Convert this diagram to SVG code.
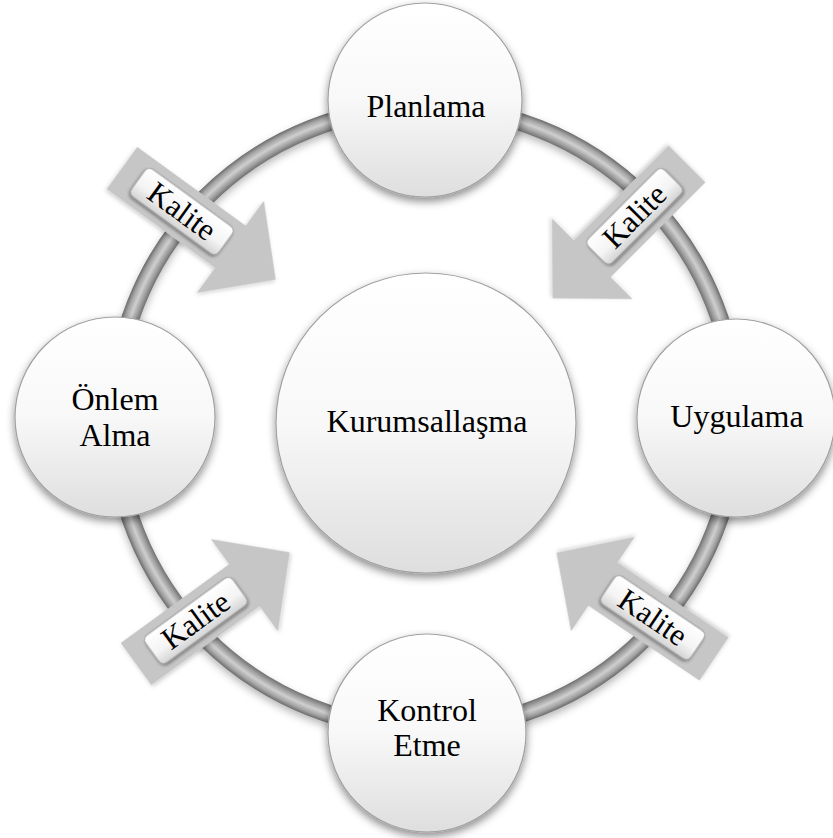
<svg xmlns="http://www.w3.org/2000/svg" width="833" height="838" viewBox="0 0 833 838">
<style>
.lbl{font-family:"Liberation Serif","Times New Roman",serif;font-size:32px;fill:#000;text-anchor:middle}
.kal{font-family:"Liberation Serif","Times New Roman",serif;font-size:31px;fill:#000;text-anchor:middle}
.node{fill:url(#nodeGrad);stroke:#a0a0a0;stroke-width:1.2;filter:url(#shadow)}
.arrow{fill:#c6c6c6;filter:url(#ashadow)}
.tag{fill:url(#tagGrad);stroke:#8a8a8a;stroke-width:0.8;filter:url(#tshadow)}
</style>
<defs>
<linearGradient id="nodeGrad" x1="0" y1="0" x2="0" y2="1">
<stop offset="0" stop-color="#ffffff"/>
<stop offset="0.5" stop-color="#f8f8f8"/>
<stop offset="1" stop-color="#dedede"/>
</linearGradient>
<linearGradient id="tagGrad" x1="0" y1="0" x2="0" y2="1">
<stop offset="0" stop-color="#ffffff"/>
<stop offset="0.6" stop-color="#f4f4f4"/>
<stop offset="1" stop-color="#d4d4d4"/>
</linearGradient>
<radialGradient id="tube" gradientUnits="userSpaceOnUse" cx="425" cy="418" r="320">
<stop offset="0.943" stop-color="#6e6e6e"/>
<stop offset="0.955" stop-color="#9a9a9a"/>
<stop offset="0.972" stop-color="#cfcfcf"/>
<stop offset="0.988" stop-color="#a2a2a2"/>
<stop offset="1" stop-color="#6a6a6a"/>
</radialGradient>
<filter id="shadow" x="-20%" y="-20%" width="140%" height="150%">
<feDropShadow dx="0" dy="4" stdDeviation="4" flood-color="#000" flood-opacity="0.45"/>
</filter>
<filter id="ashadow" x="-20%" y="-20%" width="140%" height="140%">
<feDropShadow dx="0" dy="2" stdDeviation="2" flood-color="#000" flood-opacity="0.2"/>
</filter>
<filter id="tshadow" x="-20%" y="-40%" width="140%" height="180%">
<feDropShadow dx="0" dy="2" stdDeviation="1.5" flood-color="#000" flood-opacity="0.4"/>
</filter>
<filter id="ringshadow" x="-10%" y="-10%" width="120%" height="120%">
<feGaussianBlur stdDeviation="4"/>
</filter>
<path id="arr" d="M0,-26 H134 V-57 L190,0 L134,57 V26 H0 Z"/>
</defs>
<rect width="833" height="838" fill="#ffffff"/>
<g id="connectors">
<circle cx="425" cy="422" r="311" fill="none" stroke="#000" stroke-opacity="0.3" stroke-width="17" filter="url(#ringshadow)"/>
<circle cx="425" cy="418" r="311" fill="none" stroke="url(#tube)" stroke-width="18"/>
<g id="arrow-tl" transform="translate(122,168) rotate(36)">
<use href="#arr" class="arrow"/>
<rect class="tag" x="20" y="-17" width="108" height="34" rx="6"/>
<text class="kal" x="74" y="10">Kalite</text>
</g>
<g id="arrow-tr" transform="translate(687,164) rotate(135)">
<use href="#arr" class="arrow"/>
<rect class="tag" x="20" y="-17" width="108" height="34" rx="6" transform="rotate(180,74,0)"/>
<text class="kal" x="74" y="10" transform="rotate(180,74,0)">Kalite</text>
</g>
<g id="arrow-bl" transform="translate(136,664) rotate(-36)">
<use href="#arr" class="arrow"/>
<rect class="tag" x="20" y="-17" width="108" height="34" rx="6"/>
<text class="kal" x="74" y="10">Kalite</text>
</g>
<g id="arrow-br" transform="translate(714,659) rotate(214)">
<use href="#arr" class="arrow"/>
<rect class="tag" x="20" y="-17" width="108" height="34" rx="6" transform="rotate(180,74,0)"/>
<text class="kal" x="74" y="10" transform="rotate(180,74,0)">Kalite</text>
</g>
</g>
<g id="node-planlama">
<circle class="node" cx="425" cy="100" r="97"/>
<text class="lbl" x="426" y="117">Planlama</text>
</g>
<g id="node-uygulama">
<circle class="node" cx="736" cy="418" r="99"/>
<text class="lbl" x="737" y="427">Uygulama</text>
</g>
<g id="node-kontrol">
<circle class="node" cx="427" cy="733" r="99"/>
<text class="lbl" x="427" y="721">Kontrol</text>
<text class="lbl" x="427" y="756">Etme</text>
</g>
<g id="node-onlem">
<circle class="node" cx="115" cy="417" r="100"/>
<text class="lbl" x="115" y="410">Önlem</text>
<text class="lbl" x="115" y="446">Alma</text>
</g>
<g id="node-kurumsallasma">
<circle class="node" cx="426" cy="423" r="150"/>
<text class="lbl" x="427" y="432">Kurumsallaşma</text>
</g>
</svg>
